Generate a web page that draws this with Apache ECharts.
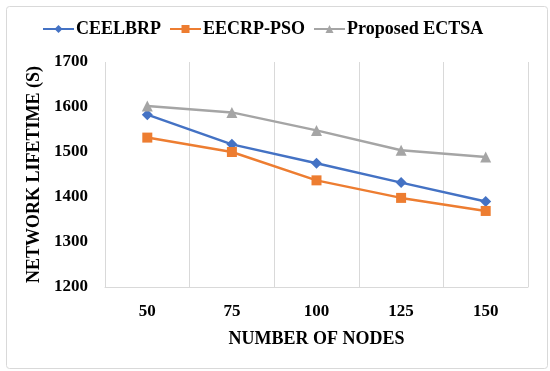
<!DOCTYPE html>
<html>
<head>
<meta charset="utf-8">
<script src="https://cdn.jsdelivr.net/npm/echarts@6/dist/echarts.min.js"></script>
<style>html,body{margin:0;padding:0;background:#fff;}#c{width:550px;height:371px;}</style>
</head>
<body>
<div id="c"></div>
<script>
const categories = ['50', '75', '100', '125', '150'];
const ceelbrp = [1583, 1517, 1475, 1432, 1390];
const eecrpPso = [1532, 1500, 1437, 1398, 1369];
const proposedEctsa = [1602, 1588, 1548, 1504, 1489];
const yTicks = [1200, 1300, 1400, 1500, 1600, 1700];

const font = '"Liberation Serif", "Times New Roman", serif';
const chart = echarts.init(document.getElementById('c'), null, {renderer: 'canvas'});
chart.setOption({
  animation: false,
  backgroundColor: '#fff',
  graphic: [{
    type: 'rect', left: 4, top: 4, silent: true,
    shape: {width: 541, height: 362, r: 3},
    style: {fill: 'none', stroke: '#d9d9d9', lineWidth: 1}
  }],
  legend: {
    left: 42, top: 20, padding: 0,
    itemWidth: 31, itemHeight: 10, itemGap: 8,
    textStyle: {fontFamily: font, fontWeight: 'bold', fontSize: 18, color: '#000', padding: [0, 0, 0, -3]},
    data: ['CEELBRP', 'EECRP-PSO', 'Proposed ECTSA']
  },
  grid: {left: 105, right: 22, top: 62, bottom: 84},
  xAxis: {
    type: 'category', data: categories, boundaryGap: true,
    name: 'NUMBER OF NODES', nameLocation: 'middle', nameGap: 43,
    nameTextStyle: {fontFamily: font, fontWeight: 'bold', fontSize: 18, color: '#000'},
    axisLine: {show: true, lineStyle: {color: '#d9d9d9', width: 1}},
    axisTick: {show: false},
    axisLabel: {fontFamily: font, fontWeight: 'bold', fontSize: 17, color: '#000', margin: 16},
    splitLine: {show: true, lineStyle: {color: '#d9d9d9', width: 1}}
  },
  yAxis: {
    type: 'value', min: yTicks[0], max: yTicks[yTicks.length - 1], interval: 100,
    name: 'NETWORK LIFETIME (S)', nameLocation: 'middle', nameGap: 61,
    nameTextStyle: {fontFamily: font, fontWeight: 'bold', fontSize: 18, color: '#000'},
    axisLine: {show: false}, axisTick: {show: false},
    axisLabel: {fontFamily: font, fontWeight: 'bold', fontSize: 17, color: '#000', margin: 17,
      formatter: function (v) { return String(v); }},
    splitLine: {show: false}
  },
  series: [
    {name: 'CEELBRP', type: 'line', data: ceelbrp, symbol: 'diamond', symbolSize: 11,
     color: '#4472C4', lineStyle: {width: 2.5, color: '#4472C4'}, itemStyle: {color: '#4472C4'}},
    {name: 'EECRP-PSO', type: 'line', data: eecrpPso, symbol: 'rect', symbolSize: 10,
     color: '#ED7D31', lineStyle: {width: 2.5, color: '#ED7D31'}, itemStyle: {color: '#ED7D31'}},
    {name: 'Proposed ECTSA', type: 'line', data: proposedEctsa, symbol: 'triangle', symbolSize: 11,
     color: '#A5A5A5', lineStyle: {width: 2.5, color: '#A5A5A5'}, itemStyle: {color: '#A5A5A5'}}
  ]
});
</script>
</body>
</html>
